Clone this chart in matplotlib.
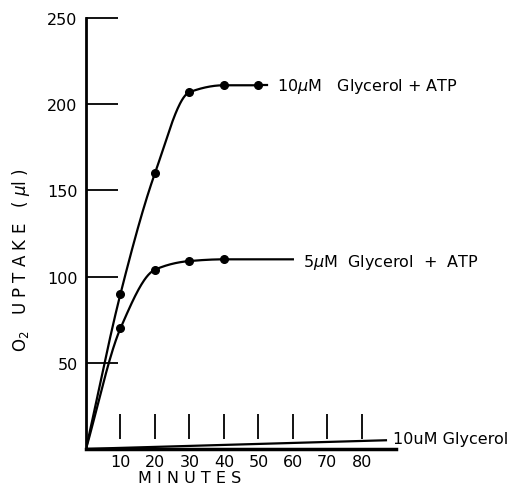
import numpy as np
import matplotlib
matplotlib.use("Agg")
import matplotlib.pyplot as plt

# minutes / O2 uptake (ul)
t_atp10 = [0, 10, 20, 30, 40, 50]
o2_atp10 = [0, 90, 160, 207, 211, 211]
t_atp5 = [0, 10, 20, 30, 40, 60]
o2_atp5 = [0, 70, 104, 109, 110, 110]
t_gly10 = [0, 87]
o2_gly10 = [0, 5]

x_ticks = [10, 20, 30, 40, 50, 60, 70, 80]
y_ticks = [50, 100, 150, 200, 250]


# monotone cubic (Fritsch-Carlson) just to draw smooth hand-drawn-like curves
def pchip(x, y, n=300):
    x = np.asarray(x, float)
    y = np.asarray(y, float)
    h = np.diff(x)
    d = np.diff(y) / h
    m = np.zeros_like(y)
    m[0], m[-1] = d[0], d[-1]
    for i in range(1, len(x) - 1):
        if d[i - 1] * d[i] <= 0:
            m[i] = 0
        else:
            w1 = 2 * h[i] + h[i - 1]
            w2 = h[i] + 2 * h[i - 1]
            m[i] = (w1 + w2) / (w1 / d[i - 1] + w2 / d[i])
    xs = np.linspace(x[0], x[-1], n)
    idx = np.clip(np.searchsorted(x, xs) - 1, 0, len(h) - 1)
    s = (xs - x[idx]) / h[idx]
    h00 = 2 * s**3 - 3 * s**2 + 1
    h10 = s**3 - 2 * s**2 + s
    h01 = -2 * s**3 + 3 * s**2
    h11 = s**3 - s**2
    ys = h00 * y[idx] + h10 * h[idx] * m[idx] + h01 * y[idx + 1] + h11 * h[idx] * m[idx + 1]
    return xs, ys


fig = plt.figure(figsize=(5.12, 4.89), dpi=100)
ax = fig.add_axes([0.168, 0.080, 0.606, 0.881])
ax.set_xlim(0, 90)
ax.set_ylim(0, 250)

for s in ["top", "right"]:
    ax.spines[s].set_visible(False)
ax.spines["left"].set_linewidth(2)
ax.spines["bottom"].set_linewidth(2.5)

# curves
xs, ys = pchip(t_atp10, o2_atp10)
ax.plot(xs, ys, color="black", lw=1.6)
ax.plot([t_atp10[-1], 52.5], [o2_atp10[-1], o2_atp10[-1]], color="black", lw=1.6)
ax.plot(t_atp10[1:], o2_atp10[1:], "o", color="black", ms=5.5)

xs, ys = pchip(t_atp5, o2_atp5)
ax.plot(xs, ys, color="black", lw=1.6)
ax.plot(t_atp5[1:-1], o2_atp5[1:-1], "o", color="black", ms=5.5)

ax.plot(t_gly10, o2_gly10, color="black", lw=1.6)

# labels at curve ends
ax.text(55.5, 211, "10$\\mu$M   Glycerol + ATP", fontsize=11.5, va="center")
ax.text(63, 109, "5$\\mu$M  Glycerol  +  ATP", fontsize=11.5, va="center")
ax.text(89, 6, "10uM Glycerol", fontsize=11.5, va="center", clip_on=False)

# y ticks: long lines pointing into the plot
ax.set_yticks(y_ticks)
ax.tick_params(axis="y", direction="in", length=23, width=1.3, labelsize=11.5, pad=6)

# x ticks: short bars floating above the axis
ax.set_xticks(x_ticks)
ax.tick_params(axis="x", length=0, labelsize=11.5, pad=4)
ax.vlines(x_ticks, 6, 20.5, color="black", lw=1.3)

ax.set_xlabel("M I N U T E S", fontsize=11.5)
ax.xaxis.set_label_coords(0.335, -0.048)
ax.set_ylabel("O$_2$   U P T A K E   ( $\\mu$l )", fontsize=12)
ax.yaxis.set_label_coords(-0.175, 0.44)

fig.savefig("out.png", dpi=100)
